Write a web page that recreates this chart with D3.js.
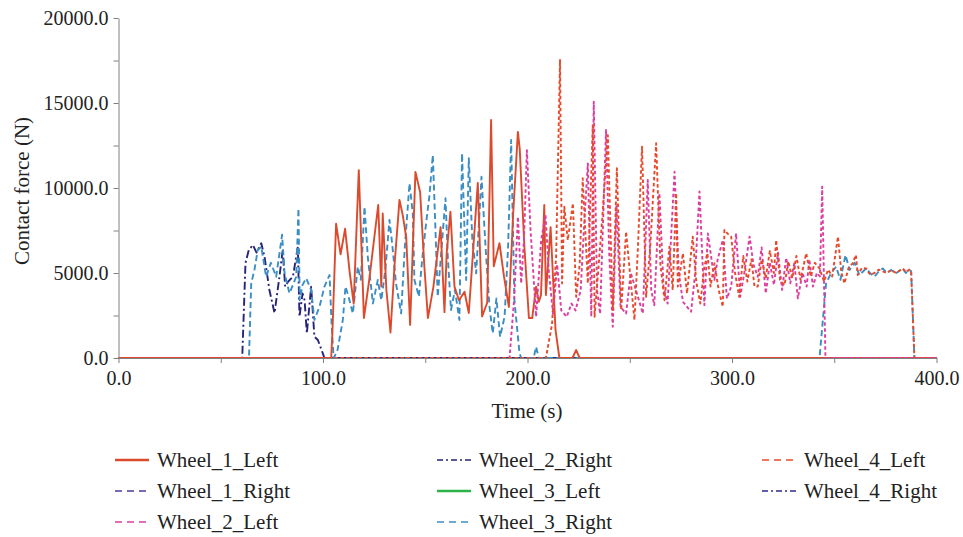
<!DOCTYPE html>
<html>
<head>
<meta charset="utf-8">
<script src="https://cdn.jsdelivr.net/npm/d3@7/dist/d3.min.js"></script>
<style>
  html, body { margin: 0; padding: 0; background: #fff; }
  svg { display: block; }
  svg text { font-family: 'Liberation Serif', 'Times New Roman', Times, 'DejaVu Serif', serif; }
</style>
</head>
<body>
<svg id="chart" width="963" height="537"></svg>
<script>
// ---------- DATA ----------
const xTicks = [0, 100, 200, 300, 400];
const yTicks = [0, 5000, 10000, 15000, 20000];

const wheel1Left = [[0,0],[104,0],[104.6,1500],[106.4,7900],[108.6,6100],[110.8,7600],[113,5100],[115,3200],[117.5,11050],[120,2350],[122.5,4500],[125,7000],[127,9000],[128.5,4200],[129.2,8500],[131,4000],[133,1500],[135,5500],[137.4,9300],[139,8400],[140.7,7100],[142.6,1950],[145.2,10950],[147.5,9750],[149.5,5500],[151.3,2350],[154,4200],[157.5,7700],[159.4,2700],[160.5,6200],[162.3,8600],[164.3,4200],[166.5,3400],[169.2,3900],[171.3,2650],[175.7,10300],[177.8,2450],[180.3,3250],[182.2,14000],[183.5,5400],[186.3,6750],[188.5,4800],[190.9,3000],[193,8500],[195.3,13300],[196.2,12300],[198.5,6500],[200.7,2350],[202.3,2350],[204.2,4200],[205.5,3300],[206.6,3700],[208.2,9000],[209,3700],[211.3,7700],[213.7,1650],[215.6,0],[222,0],[223.8,470],[225.5,0],[400,0]];

const wheel1Right = [[0,0],[400,0]];

const wheel2Left = [[0,0],[191.2,0],[193.5,3500],[195.3,8310],[196.9,4390],[198.3,7000],[199.7,12230],[201.5,7500],[204.2,2430],[206.7,6940],[208.8,8410],[210.5,5000],[212.5,2600],[214.5,5500],[216.5,2800],[219.2,2430],[221.5,3200],[223.5,2800],[226,4000],[227.5,7400],[229.5,11450],[231.2,2430],[232.4,15080],[234,4000],[235.5,2600],[238.4,13410],[240,6000],[241.7,1840],[243.5,9000],[245.5,3000],[248.2,2620],[250.5,5000],[253,4000],[256.4,2620],[258.8,10470],[260.5,4000],[262,3100],[264.5,9690],[266.5,4200],[268.5,3200],[271.9,10960],[274,5000],[276,3310],[280,2720],[282,5000],[284.1,9790],[286.5,3110],[288.2,7330],[291.4,4590],[293,5800],[295.5,6940],[297.5,3500],[299.6,4200],[302,7330],[304,3600],[306,5000],[308.6,7140],[310.5,5500],[312.6,4780],[314.5,6500],[316.5,3800],[318.5,5600],[320.5,4300],[322.5,6200],[324.5,4000],[326.5,5900],[328.5,4400],[330.5,5600],[332.2,3510],[334.5,5000],[336.5,4200],[337.8,5800],[339.6,4200],[341.5,5000],[343,4800],[344.1,10080],[345.7,0],[400,0]];

const wheel2Right = [[0,0],[60.5,0],[62.1,5590],[63.7,6350],[65.7,6650],[67.5,6200],[69.8,6750],[71.4,5960],[73.8,4000],[76.3,2640],[78.7,4780],[80.3,6350],[81.5,4200],[83,4500],[85.3,4780],[87.7,6550],[88.5,2430],[90,3800],[91,3400],[92.1,1450],[94.2,4200],[95.8,1250],[97.5,1060],[99.9,270],[100.7,0],[400,0]];

const wheel3Left = [[0,0],[400,0]];

const wheel3Right = [[0,0],[63.8,0],[64.9,4400],[66.5,5200],[68.1,6350],[69.8,6550],[72.2,4780],[74.5,5600],[77.1,4780],[80,7250],[81.2,4980],[83.6,3800],[86.9,4780],[88,8800],[88.6,3400],[90,4300],[91.8,4690],[94.2,4000],[95.8,2240],[98.3,3020],[100.7,4200],[103.2,4880],[104.2,2000],[105.2,0],[107,400],[109.7,2240],[111,4200],[112.5,3600],[114.6,2620],[117,5370],[118.5,4600],[120.3,8900],[121.9,5960],[124.4,3210],[126.8,4590],[128.5,3400],[130.5,5200],[132.5,8120],[133.8,6750],[135.7,4390],[138.2,2620],[140,6500],[142.3,10280],[143.9,8500],[144.7,4590],[146.9,3610],[148.5,5800],[150.4,7920],[152,9500],[153.7,11940],[155,7500],[156.1,3600],[158,6500],[159.9,9400],[161,6000],[162.6,2820],[164.5,4000],[166.7,2240],[168,12040],[170,4590],[171.3,11750],[173,7000],[174.9,4980],[177.5,10660],[179.5,6500],[181.4,3020],[183,1450],[184.8,3500],[186.6,1250],[188.8,2430],[190.5,6500],[192,12820],[193.6,3400],[196.1,270],[197,0],[203,0],[204.2,660],[205.5,0],[342.8,0],[346,4390],[348.4,4980],[350.9,5370],[353,4600],[355.5,6060],[357.5,5180],[360,5600],[362.3,4880],[365.6,5270],[367.5,5000],[369.7,4780],[371.8,5100],[373.7,5270],[375.8,5000],[377.8,5180],[380.2,4980],[383.5,5270],[385,5000],[386.8,5180],[387.6,5100],[389.2,0],[400,0]];

const wheel4Left = [[0,0],[209,0],[212,2000],[214,6000],[215.9,17530],[216.9,4390],[218,8900],[219.7,6940],[222.2,9100],[223.8,3600],[225.5,5500],[227,10570],[229.5,4390],[231.9,13700],[232.8,2430],[234.5,5000],[236.5,8120],[239.3,13100],[241.7,2820],[243.7,11160],[245.8,2820],[248.2,7430],[250.5,4500],[252.3,2240],[254,6500],[256,12430],[258,3600],[260,6500],[262.9,12630],[265,5500],[267,3400],[269.4,6550],[271,4000],[272.7,9690],[273.5,4200],[276,6160],[278,3800],[280.8,7140],[282.5,4500],[284.5,3200],[286.5,5370],[288,6160],[289.5,4200],[291.4,5570],[293.5,4000],[295.5,3020],[296.3,7530],[298,7300],[299.6,7140],[301.5,5000],[303.5,3600],[305.5,6000],[307.5,4500],[309.5,5800],[311,4200],[312.6,4200],[314.5,5800],[316.5,4700],[318.5,6300],[320.5,5000],[321.6,6940],[323.5,4600],[325.7,4290],[327.5,5700],[329.5,4700],[331.5,6000],[333.5,4600],[336.3,6160],[338.5,4800],[340.5,5600],[342.8,5270],[345,4500],[347,5200],[349,4800],[351.8,7140],[353.5,5000],[355,4390],[357,5300],[359,5570],[360.6,6060],[361.5,4880],[363.5,5300],[365.6,5270],[367.5,4900],[369.7,5000],[371.8,5200],[373.7,5100],[375.8,5000],[377.8,5180],[380.2,5000],[383.5,5270],[385,5050],[386.8,5200],[387.6,5100],[389.2,0],[400,0]];

const wheel4Right = [[0,0],[400,0]];

const seriesNames = ["Wheel_1_Left","Wheel_1_Right","Wheel_2_Left","Wheel_2_Right","Wheel_3_Left","Wheel_3_Right","Wheel_4_Left","Wheel_4_Right"];

// ---------- STYLES ----------
const FONT = "'Liberation Serif', 'Times New Roman', Times, 'DejaVu Serif', serif";
const styles = {
  "Wheel_1_Left":  {data: wheel1Left,  color: "#dc4a2e", dash: null},
  "Wheel_1_Right": {data: wheel1Right, color: "#4a3d9d", dash: "6,4"},
  "Wheel_2_Left":  {data: wheel2Left,  color: "#dd3d9e", dash: "3.5,2.5"},
  "Wheel_2_Right": {data: wheel2Right, color: "#26237a", dash: "8,3,2,3"},
  "Wheel_3_Left":  {data: wheel3Left,  color: "#2db24a", dash: null},
  "Wheel_3_Right": {data: wheel3Right, color: "#3b8ec4", dash: "6,3.5"},
  "Wheel_4_Left":  {data: wheel4Left,  color: "#e8492a", dash: "3.5,2.5"},
  "Wheel_4_Right": {data: wheel4Right, color: "#2b2a8e", dash: "8,3,2,3"}
};
const drawOrder = ["Wheel_3_Left","Wheel_1_Right","Wheel_4_Right","Wheel_2_Right","Wheel_3_Right","Wheel_1_Left","Wheel_2_Left","Wheel_4_Left"];

const svg = d3.select("#chart");
const x = d3.scaleLinear().domain([0, 400]).range([118.5, 936.5]);
const y = d3.scaleLinear().domain([0, 20000]).range([358, 18]);
const axisColor = "#808080";
const textColor = "#222";
const fs = 20;

// Lines
const line = d3.line().x(d => x(d[0])).y(d => y(d[1]));
const plot = svg.append("g");
drawOrder.forEach(name => {
  const s = styles[name];
  plot.append("path")
    .datum(s.data)
    .attr("fill", "none")
    .attr("stroke", s.color)
    .attr("stroke-width", 1.9)
    .attr("stroke-linejoin", "round")
    .attr("stroke-dasharray", s.dash)
    .attr("d", line);
});

// Y axis
const yAxis = d3.axisLeft(y)
  .tickValues(d3.range(0, 20001, 2500))
  .tickSize(5).tickSizeOuter(0).tickPadding(5)
  .tickFormat(d => yTicks.includes(d) ? d3.format(".1f")(d) : "");
const gy = svg.append("g").attr("transform", `translate(${x(0)},0)`).call(yAxis);

// X axis
const xAxis = d3.axisBottom(x)
  .tickValues(d3.range(0, 401, 50))
  .tickSize(5).tickSizeOuter(0).tickPadding(8)
  .tickFormat(d => xTicks.includes(d) ? d3.format(".1f")(d) : "");
const gx = svg.append("g").attr("transform", `translate(0,${y(0)})`).call(xAxis);

[gx, gy].forEach(g => {
  g.attr("font-family", FONT).attr("font-size", fs);
  g.select(".domain").attr("stroke", axisColor).attr("stroke-width", 1);
  g.selectAll(".tick line").attr("stroke", axisColor);
  g.selectAll(".tick text").attr("fill", textColor)
    .attr("font-family", FONT).attr("font-size", fs);
});

// Axis titles
svg.append("text")
  .attr("x", 527).attr("y", 418)
  .attr("text-anchor", "middle")
  .attr("font-family", FONT).attr("font-size", 21)
  .attr("fill", textColor)
  .text("Time (s)");
svg.append("text")
  .attr("transform", "translate(29,191) rotate(-90)")
  .attr("text-anchor", "middle")
  .attr("font-family", FONT).attr("font-size", 21)
  .attr("fill", textColor)
  .text("Contact force (N)");

// Legend
const legendCols = [115, 437, 762];
const legendRows = [460, 491, 522];
const legend = svg.append("g");
seriesNames.forEach((name, i) => {
  const col = Math.floor(i / 3), row = i % 3;
  const lx = legendCols[col], ly = legendRows[row];
  const s = styles[name];
  legend.append("line")
    .attr("x1", lx).attr("x2", lx + 34)
    .attr("y1", ly).attr("y2", ly)
    .attr("stroke", s.color).attr("stroke-width", s.dash ? 1.6 : 2.4)
    .attr("stroke-dasharray", s.dash ? (s.dash.split(",").length > 2 ? "6,3,2,3" : "7,5") : null);
  legend.append("text")
    .attr("x", lx + 42).attr("y", ly)
    .attr("dominant-baseline", "central")
    .attr("font-family", FONT).attr("font-size", 21)
    .attr("fill", textColor)
    .text(name);
});
</script>
</body>
</html>
